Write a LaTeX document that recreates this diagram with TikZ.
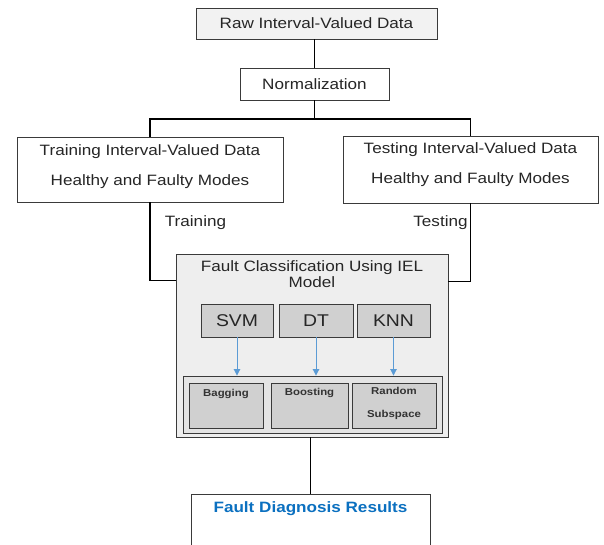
\documentclass[tikz,border=0pt]{standalone}
\usepackage{fontspec}
\setmainfont[FakeStretch=1.14]{Liberation Sans}
\usetikzlibrary{arrows.meta}
\definecolor{edgecol}{HTML}{3A3A3A}
\definecolor{rawfill}{HTML}{F2F2F2}
\definecolor{bigfill}{HTML}{EEEEEE}
\definecolor{algfill}{HTML}{D0D0D0}
\definecolor{ensfill}{HTML}{E4E4E4}
\definecolor{arrowblue}{HTML}{5B9BD5}
\definecolor{resblue}{HTML}{0B70C0}
\begin{document}
\begin{tikzpicture}[x=1pt,y=-1pt,
  box/.style={draw=edgecol, line width=0.9pt, rectangle, inner sep=0pt},
  txt/.style={font=\fontsize{15}{18}\selectfont, text=black!85},
  toplabel/.style={inner sep=0pt, anchor=north, align=center, font=\fontsize{15}{30}\selectfont, text=black!85},
  algbox/.style={box, fill=algfill, minimum height=33pt, font=\fontsize{17}{20}\selectfont, text=black!85},
  ensbox/.style={box, fill=algfill, minimum height=45pt},
  enslabel/.style={inner sep=0pt, anchor=north, align=center, font=\fontsize{10}{23}\selectfont\bfseries, text=black!80},
  conn/.style={draw=black, line width=1.5pt},
  bluearrow/.style={draw=arrowblue, line width=0.9pt, -{Triangle[width=6.5pt,length=6.5pt]}}
]
\useasboundingbox (0,0) rectangle (604,544);

\node[box, txt, fill=rawfill, minimum width=241pt, minimum height=31pt] (raw) at (316.5,23.5) {Raw Interval-Valued Data};
\node[box, txt, fill=white, minimum width=149pt, minimum height=32pt] (norm) at (314.5,84) {Normalization};

\node[box, fill=white, minimum width=266pt, minimum height=65pt,
      label={[toplabel, yshift=-8pt]north:Training Interval-Valued Data\\Healthy and Faulty Modes}]
      (tr) at (150,169.5) {};
\node[box, fill=white, minimum width=255pt, minimum height=67pt,
      label={[toplabel, yshift=-7pt]north:Testing Interval-Valued Data\\Healthy and Faulty Modes}]
      (te) at (470.5,169.5) {};

\node[txt, anchor=center] (trlab) at (195.5,223) {Training};
\node[txt, anchor=center] (telab) at (440.5,223) {Testing};

\node[box, fill=bigfill, minimum width=272pt, minimum height=183pt,
      label={[inner sep=0pt, anchor=north, yshift=-7pt, align=center,
              font=\fontsize{15}{16}\selectfont, text=black!85]north:Fault Classification Using IEL\\Model}]
      (big) at (312,345.5) {};

\node[algbox, minimum width=72pt] (svm) at (237,320.5) {SVM};
\node[algbox, minimum width=74pt] (dt) at (316,320.5) {DT};
\node[algbox, minimum width=73pt] (knn) at (393.5,320.5) {KNN};

\node[box, fill=ensfill, minimum width=259pt, minimum height=57pt] (ens) at (312.5,404.5) {};
\node[ensbox, minimum width=74pt, label={[enslabel, yshift=-6pt]north:Bagging}] (bag) at (226,405.5) {};
\node[ensbox, minimum width=77pt, label={[enslabel, yshift=-5pt]north:Boosting}] (boost) at (309.5,405.5) {};
\node[ensbox, minimum width=84pt, label={[enslabel, yshift=-4pt]north:Random\\Subspace}] (rand) at (394,405.5) {};

\draw[bluearrow] (svm.south) -- (svm.south |- ens.north);
\draw[bluearrow] (dt.south) -- (dt.south |- ens.north);
\draw[bluearrow] (knn.south) -- (knn.south |- ens.north);

\node[box, fill=white, minimum width=239pt, minimum height=52pt,
      label={[inner sep=0pt, anchor=north, yshift=-8pt,
              font=\fontsize{15}{18}\selectfont\bfseries, text=resblue]north:Fault Diagnosis Results}]
      (res) at (310.5,520) {};

\coordinate (split) at (314.5,119);
\draw[conn] (raw.south -| norm.north) -- (norm.north);
\draw[conn] (norm.south) -- (split);
\draw[conn] (tr.north) |- (split) -| (te.north);
\draw[conn] (tr.south) |- ([yshift=-27pt]big.north west);
\draw[conn] (te.south) |- ([yshift=-28pt]big.north east);
\draw[conn] (big.south -| res.north) -- (res.north);
\end{tikzpicture}
\end{document}
